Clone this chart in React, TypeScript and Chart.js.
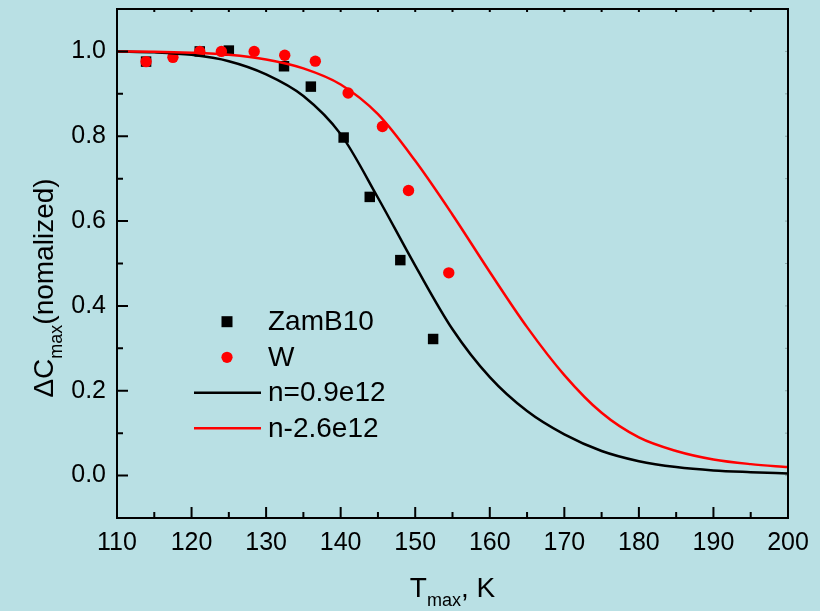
import React, { useEffect, useRef } from 'react';
import { Chart, registerables } from 'chart.js';

Chart.register(...registerables);

// ---- data ----
const zamB10T = [113.9, 121.1, 125.0, 132.4, 136.0, 140.4, 143.9, 148.0, 152.4];
const zamB10V = [0.976, 1.0, 1.002, 0.965, 0.917, 0.797, 0.657, 0.508, 0.322];

const wT = [113.9, 117.5, 121.1, 124.0, 128.4, 132.5, 136.6, 141.0, 145.6, 149.1, 154.5];
const wV = [0.976, 0.986, 1.0, 1.0, 1.0, 0.991, 0.977, 0.902, 0.823, 0.672, 0.478];

const fitT = [110, 115, 120, 125, 130, 135, 140, 145, 150, 155, 160, 165, 170, 175, 180, 185, 190, 195, 200];
const fitBlack = [1.0, 0.998, 0.992, 0.977, 0.946, 0.895, 0.805, 0.655, 0.495, 0.345, 0.232, 0.152, 0.097, 0.058, 0.034, 0.02, 0.012, 0.008, 0.005];
const fitRed = [1.0, 0.9995, 0.997, 0.992, 0.981, 0.96, 0.922, 0.852, 0.742, 0.615, 0.48, 0.35, 0.237, 0.148, 0.09, 0.058, 0.038, 0.027, 0.02];

const xMajorTicks = [110, 120, 130, 140, 150, 160, 170, 180, 190, 200];
const xMinorTicks = [115, 125, 135, 145, 155, 165, 175, 185, 195];
const yMajorTicks = [0.0, 0.2, 0.4, 0.6, 0.8, 1.0];
const yMinorTicks = [0.1, 0.3, 0.5, 0.7, 0.9];

const legendLabels = ['ZamB10', 'W', 'n=0.9e12', 'n-2.6e12'];

const FONT = '"Liberation Sans", Arial, sans-serif';
const BG = '#b9e0e4';

const toXY = (xs: number[], ys: number[]) => xs.map((x, i) => ({ x, y: ys[i] }));

const decorPlugin = {
  id: 'decor',
  beforeDraw(chart: any) {
    const ctx = chart.ctx;
    ctx.save();
    ctx.fillStyle = BG;
    ctx.fillRect(0, 0, chart.width, chart.height);
    ctx.restore();
  },
  afterDraw(chart: any) {
    const ctx = chart.ctx as CanvasRenderingContext2D;
    const { left, right, top, bottom } = chart.chartArea;
    const xs = chart.scales.x;
    const ys = chart.scales.y;
    ctx.save();
    // frame
    ctx.strokeStyle = '#000';
    ctx.lineWidth = 2;
    ctx.strokeRect(left, top, right - left, bottom - top);

    // ticks (inward)
    ctx.lineWidth = 2;
    ctx.beginPath();
    xMajorTicks.forEach((v) => {
      const px = xs.getPixelForValue(v);
      ctx.moveTo(px, bottom); ctx.lineTo(px, bottom - 11);
      ctx.moveTo(px, top); ctx.lineTo(px, top + 3);
    });
    xMinorTicks.forEach((v) => {
      const px = xs.getPixelForValue(v);
      ctx.moveTo(px, bottom); ctx.lineTo(px, bottom - 6);
      ctx.moveTo(px, top); ctx.lineTo(px, top + 3);
    });
    yMajorTicks.forEach((v) => {
      const py = ys.getPixelForValue(v);
      ctx.moveTo(left, py); ctx.lineTo(left + 11, py);
    });
    yMinorTicks.forEach((v) => {
      const py = ys.getPixelForValue(v);
      ctx.moveTo(left, py); ctx.lineTo(left + 6, py);
    });
    ctx.stroke();
    // faint right ticks
    ctx.strokeStyle = 'rgba(0,0,0,0.25)';
    ctx.lineWidth = 1;
    ctx.beginPath();
    [...yMajorTicks, ...yMinorTicks].forEach((v) => {
      const py = ys.getPixelForValue(v);
      ctx.moveTo(right, py); ctx.lineTo(right - 3, py);
    });
    ctx.stroke();

    // x title: T_max, K
    ctx.fillStyle = '#000';
    ctx.textBaseline = 'alphabetic';
    ctx.textAlign = 'left';
    const big = `28px ${FONT}`;
    const small = `18px ${FONT}`;
    ctx.font = big;
    const wT1 = ctx.measureText('T').width;
    const wT3 = ctx.measureText(', K').width;
    ctx.font = small;
    const wT2 = ctx.measureText('max').width;
    const totalX = wT1 + wT2 + wT3;
    let sx = (left + right) / 2 - totalX / 2;
    const by = 597;
    ctx.font = big; ctx.fillText('T', sx, by); sx += wT1;
    ctx.font = small; ctx.fillText('max', sx, by + 9); sx += wT2;
    ctx.font = big; ctx.fillText(', K', sx, by);

    // y title: ΔC_max(nomalized)
    ctx.save();
    ctx.translate(53, 288);
    ctx.rotate(-Math.PI / 2);
    ctx.font = big;
    const wY1 = ctx.measureText('ΔC').width;
    const wY3 = ctx.measureText('(nomalized)').width;
    ctx.font = small;
    const wY2 = ctx.measureText('max').width;
    let sy = -(wY1 + wY2 + wY3) / 2;
    ctx.font = big; ctx.fillText('ΔC', sy, 0); sy += wY1;
    ctx.font = small; ctx.fillText('max', sy, 9); sy += wY2;
    ctx.font = big; ctx.fillText('(nomalized)', sy, 0);
    ctx.restore();

    // legend
    const rows = [321.7, 357.3, 392.7, 428.3];
    const mx = 227;
    ctx.fillStyle = '#000';
    ctx.fillRect(mx - 5.5, rows[0] - 5.5, 11, 11);
    ctx.fillStyle = '#ff0000';
    ctx.beginPath();
    ctx.arc(mx, rows[1], 5.6, 0, Math.PI * 2);
    ctx.fill();
    ctx.lineWidth = 2.5;
    ctx.strokeStyle = '#000';
    ctx.beginPath(); ctx.moveTo(194, rows[2]); ctx.lineTo(261, rows[2]); ctx.stroke();
    ctx.strokeStyle = '#ff0000';
    ctx.beginPath(); ctx.moveTo(194, rows[3]); ctx.lineTo(261, rows[3]); ctx.stroke();
    ctx.fillStyle = '#000';
    ctx.font = `28px ${FONT}`;
    ctx.textBaseline = 'middle';
    legendLabels.forEach((t, i) => ctx.fillText(t, 268, rows[i] + 1));
    ctx.restore();
  },
};

export default function App() {
  const ref = useRef<HTMLCanvasElement | null>(null);
  useEffect(() => {
    document.body.style.margin = '0';
    const canvas = ref.current;
    if (!canvas) return;
    const chart = new Chart(canvas, {
      type: 'scatter',
      data: {
        datasets: [
          {
            label: legendLabels[3],
            data: toXY(fitT, fitRed),
            showLine: true,
            borderColor: '#ff0000',
            borderWidth: 2.5,
            pointRadius: 0,
            cubicInterpolationMode: 'monotone',
          },
          {
            label: legendLabels[2],
            data: toXY(fitT, fitBlack),
            showLine: true,
            borderColor: '#000000',
            borderWidth: 2.5,
            pointRadius: 0,
            cubicInterpolationMode: 'monotone',
          },
          {
            label: legendLabels[1],
            data: toXY(wT, wV),
            pointStyle: 'circle',
            pointRadius: 5.7,
            pointBorderWidth: 0,
            backgroundColor: '#ff0000',
            borderColor: '#ff0000',
          },
          {
            label: legendLabels[0],
            data: toXY(zamB10T, zamB10V),
            pointStyle: 'rect',
            pointRadius: 7.4,
            pointBorderWidth: 0,
            backgroundColor: '#000000',
            borderColor: '#000000',
          },
        ] as any,
      },
      options: {
        animation: false,
        responsive: false,
        maintainAspectRatio: false,
        events: [],
        layout: { padding: { left: 0, right: 32, top: 9, bottom: 0 } },
        plugins: { legend: { display: false }, tooltip: { enabled: false } },
        scales: {
          x: {
            type: 'linear',
            min: 110,
            max: 200,
            grid: { display: false, drawTicks: false },
            border: { display: false },
            afterBuildTicks: (s: any) => { s.ticks = xMajorTicks.map((v) => ({ value: v })); },
            afterFit: (s: any) => { s.height = 93; s.paddingLeft = 0; s.paddingRight = 0; },
            ticks: {
              padding: 10,
              color: '#000',
              font: { family: FONT, size: 25 },
              maxRotation: 0,
              autoSkip: false,
              callback: (v: any) => String(v),
            },
          },
          y: {
            type: 'linear',
            min: -0.1,
            max: 1.1,
            grid: { display: false, drawTicks: false },
            border: { display: false },
            afterBuildTicks: (s: any) => { s.ticks = yMajorTicks.map((v) => ({ value: v })); },
            afterFit: (s: any) => { s.width = 117; s.paddingTop = 0; s.paddingBottom = 0; },
            ticks: {
              padding: 11,
              color: '#000',
              font: { family: FONT, size: 25 },
              autoSkip: false,
              callback: (v: any) => Number(v).toFixed(1),
            },
          },
        },
      } as any,
      plugins: [decorPlugin],
    });
    return () => chart.destroy();
  }, []);
  return (
    <div style={{ position: 'fixed', left: 0, top: 0, width: 820, height: 611 }}>
      <canvas ref={ref} width={820} height={611} style={{ width: 820, height: 611, display: 'block' }} />
    </div>
  );
}
